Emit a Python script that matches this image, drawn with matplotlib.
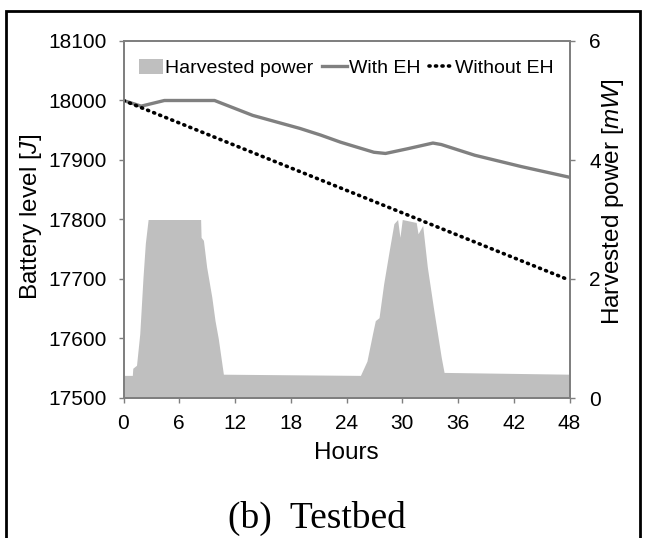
import matplotlib
matplotlib.use("Agg")
import matplotlib.pyplot as plt
from matplotlib.patches import Rectangle, Patch
from matplotlib.lines import Line2D

plt.rcParams['font.family'] = ['Liberation Sans', 'DejaVu Sans']
plt.rcParams['mathtext.fontset'] = 'custom'
plt.rcParams['mathtext.it'] = 'Liberation Sans:italic'
plt.rcParams['mathtext.rm'] = 'Liberation Sans'

# Harvested power (mW)
harv_hours = [0, 0.95, 1.0, 1.4, 1.75, 2.1, 2.35, 2.65, 8.3, 8.35, 8.6, 8.95, 9.5, 9.85,
              10.2, 10.75, 25.5, 26.2, 26.8, 27.1, 27.5, 28.0, 28.6, 29.1, 29.5, 29.75,
              30.0, 31.5, 31.7, 32.2, 32.7, 33.4, 34.2, 34.5, 48]
harv_power = [0.38, 0.38, 0.5, 0.55, 1.08, 2.03, 2.6, 3.0, 3.0, 2.7, 2.65, 2.2, 1.7, 1.3,
              1.0, 0.4, 0.38, 0.62, 1.08, 1.3, 1.35, 1.92, 2.48, 2.93, 3.0, 2.7,
              3.0, 2.95, 2.76, 2.9, 2.2, 1.47, 0.68, 0.43, 0.40]

# Battery level with EH (J)
eh_hours = [0, 1.9, 4.4, 9.8, 13.9, 19.0, 21.2, 23.35, 24.4, 26.95, 28.2, 30.6, 33.3,
            34.2, 37.8, 42.8, 48]
eh_level = [18000, 17990.5, 18000, 18000, 17975, 17953, 17942, 17930, 17925, 17913,
            17911, 17919, 17928.5, 17926, 17908, 17889, 17871]

# Battery level without EH (J)
noeh_hours = [0, 48]
noeh_level = [18000, 17698]

x_ticks = [0, 6, 12, 18, 24, 30, 36, 42, 48]
left_ticks = [17500, 17600, 17700, 17800, 17900, 18000, 18100]
right_ticks = [0, 2, 4, 6]

W, H = 647, 538
fig = plt.figure(figsize=(W / 100, H / 100), dpi=100)
ax = fig.add_axes([123.5 / W, 1 - 398 / H, (569.5 - 123.5) / W, (398 - 41) / H])
ax2 = ax.twinx()

ax2.fill_between(harv_hours, harv_power, 0, color='#BFBFBF', linewidth=0)
ax2.set_ylim(0, 6)
ax2.set_yticks(right_ticks)

ax.set_zorder(ax2.get_zorder() + 1)
ax.patch.set_visible(False)
dot_style = (0, (0.3, 1.5))
ax.plot(eh_hours, eh_level, color='#808080', lw=2.4, solid_capstyle='butt')
ax.plot(noeh_hours, noeh_level, color='black', lw=2.6, linestyle=dot_style,
        dash_capstyle='round')
ax.set_xlim(0, 48)
ax.set_ylim(17500, 18100)
ax.set_xticks(x_ticks)
ax.set_yticks(left_ticks)

spine_c = '#7F7F7F'
for a in (ax, ax2):
    for s in a.spines.values():
        s.set_color(spine_c)
        s.set_linewidth(1.3)
    a.tick_params(colors=spine_c, labelcolor='black', labelsize=15, length=3.6,
                  width=1, direction='out')
ax.tick_params(axis='y', pad=8.5)
ax2.tick_params(axis='y', pad=10.5)
ax.tick_params(axis='x', pad=8)

fig.text(346.5 / W, 1 - 453 / H, 'Hours', fontsize=17.5, ha='center', va='center')
fig.text(31 / W, 1 - 217 / H, r'Battery level [$\it{J}$]', fontsize=17.5,
         rotation=90, ha='center', va='center')
fig.text(613 / W, 1 - 202 / H, r'Harvested power [$\it{mW}$]', fontsize=17.5,
         rotation=90, ha='center', va='center')

handles = [Patch(facecolor='#BFBFBF', edgecolor='none'),
           Line2D([], [], color='#808080', lw=2.4),
           Line2D([], [], color='black', lw=2.6, linestyle=dot_style,
                  dash_capstyle='round')]
labels = ['Harvested power', 'With EH', 'Without EH']
ax.legend(handles, labels, loc='center', bbox_to_anchor=(0.5, 0.924), ncol=3,
          frameon=False, fontsize=14, handlelength=1.25, handletextpad=0.1,
          columnspacing=0.45, handleheight=0.8)

fig.text(317 / W, 1 - 518 / H, '(b)  Testbed', ha='center', va='center',
         fontsize=27, family='Liberation Serif')

fig.patches.append(Rectangle((6 / W, -0.05), (640 - 6) / W, 1 - 11 / H + 0.05,
                             transform=fig.transFigure, fill=False,
                             edgecolor='black', lw=2))

fig.savefig('out.png', dpi=100)
